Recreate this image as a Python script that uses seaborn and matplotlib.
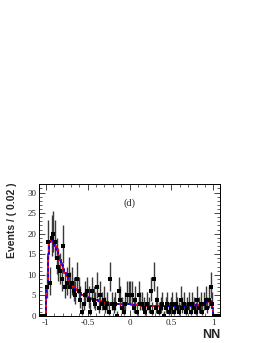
import numpy as np
import pandas as pd
import matplotlib
matplotlib.use("Agg")
import matplotlib.pyplot as plt
import seaborn as sns
from matplotlib.ticker import MultipleLocator

sns.set_style("ticks")

# ---- data ----
bin_width = 0.02
x_min, x_max = -1.08, 1.08
counts = [0, 0, 0, 0,
          7, 18, 8, 19, 20, 18, 14, 12, 11, 9,
          17, 7, 8, 10, 7, 8, 6, 5, 9, 6,
          4, 1, 3, 5, 6, 4, 1, 6, 4, 3,
          7, 2, 5, 3, 4, 2, 3, 1, 9, 3,
          2, 3, 0, 6, 4, 2, 1, 3, 5, 5,
          5, 5, 2, 4, 1, 5, 3, 3, 2, 1,
          3, 2, 6, 1, 9, 2, 4, 1, 2, 3,
          0, 2, 3, 1, 2, 3, 1, 3, 2, 1,
          4, 2, 3, 1, 2, 3, 1, 3, 2, 1,
          4, 2, 3, 1, 3, 4, 2, 4, 7, 3,
          0, 0, 0, 0]
fit = [0, 0, 0, 0,
       7, 15, 18, 18.5, 18, 17, 16, 14.5, 13.5, 12.5,
       11.5, 10.5, 9.7, 9.0, 8.3, 7.7, 7.1, 6.6, 6.2, 5.8,
       5.5, 5.2, 5.0, 4.8, 4.6, 4.4, 4.3, 4.1, 4.0, 3.9,
       3.8, 3.7, 3.6, 3.5, 3.4, 3.35, 3.3, 3.25, 3.2, 3.15,
       3.1, 3.05, 3.0, 3.0, 2.95, 2.9, 2.9, 2.85, 2.85, 2.8,
       2.8, 2.75, 2.7, 2.7, 2.65, 2.6, 2.6, 2.55, 2.5, 2.5,
       2.5, 2.45, 2.45, 2.4, 2.4, 2.4, 2.4, 2.4, 2.4, 2.4,
       2.4, 2.4, 2.4, 2.4, 2.4, 2.4, 2.4, 2.4, 2.4, 2.4,
       2.4, 2.4, 2.4, 2.4, 2.45, 2.45, 2.5, 2.5, 2.55, 2.6,
       2.6, 2.7, 2.8, 2.9, 3.0, 3.2, 3.5, 3.8, 3.6, 2.0,
       0, 0, 0, 0]
x_ticks = [-1, -0.5, 0, 0.5, 1]
x_tick_labels = ["-1", "-0.5", "0", "0.5", "1"]
y_ticks = [0, 5, 10, 15, 20, 25, 30]

centers = np.round(np.arange(len(counts)) * bin_width + x_min + bin_width / 2, 4)
df = pd.DataFrame({"x": centers, "n": counts, "fit": fit})
# approximate Poisson (asymmetric) intervals
n = df["n"].astype(float)
df["lo"] = np.where(n > 0, n - np.sqrt(np.clip(n - 0.25, 0, None)), 0.0)
df["hi"] = np.where(n > 0, n + 1 + np.sqrt(n + 0.75), 1.15)

fig = plt.figure(figsize=(2.65, 3.43), dpi=100)
ax = fig.add_axes([0.148, 0.0787, 0.682, 0.384])

# error bars
inner = df[(df["x"] > -1.0) & (df["x"] < 1.0)]
ax.vlines(inner["x"], inner["lo"], inner["hi"], color="#3a3a3a", lw=1.0, zorder=2)

# fit curves
sns.lineplot(data=df, x="x", y="fit", ax=ax, color="red", lw=1.4, drawstyle="steps-mid", zorder=3)
sns.lineplot(data=df, x="x", y="fit", ax=ax, color="blue", lw=1.2, drawstyle="steps-mid",
             linestyle=(0, (2, 1.5)), zorder=4)

# data points
sns.scatterplot(data=df, x="x", y="n", ax=ax, marker="s", s=8, color="black",
                edgecolor="black", linewidth=0, zorder=5)

ax.set_xlim(x_min, x_max)
ax.set_ylim(0, 32)
ax.set_xticks(x_ticks)
ax.set_xticklabels(x_tick_labels)
ax.set_yticks(y_ticks)
ax.xaxis.set_minor_locator(MultipleLocator(0.1))
ax.yaxis.set_minor_locator(MultipleLocator(1))
ax.tick_params(which="both", direction="in", top=True, right=True, labelsize=6.5, pad=2)
ax.tick_params(which="major", length=4, width=0.6)
ax.tick_params(which="minor", length=2, width=0.5)
for lab in ax.get_xticklabels() + ax.get_yticklabels():
    lab.set_family("Liberation Serif")
for sp in ax.spines.values():
    sp.set_linewidth(0.7)
    sp.set_color("black")
ax.set_xlabel("")
ax.set_ylabel("")

ax.text(0.0, 27.3, "(d)", family="Liberation Serif", fontsize=7.5, ha="center", va="center")
fig.text(12 / 265, (343 - 183) / 343, "Events / ( 0.02 )", rotation=90, ha="center", va="top",
         family="Liberation Sans", fontweight="bold", fontsize=7.5)
fig.text(220 / 265, (343 - 335) / 343, "NN", ha="right", va="center",
         family="Liberation Sans", fontweight="bold", fontsize=9)

fig.savefig("out.png", dpi=100)
